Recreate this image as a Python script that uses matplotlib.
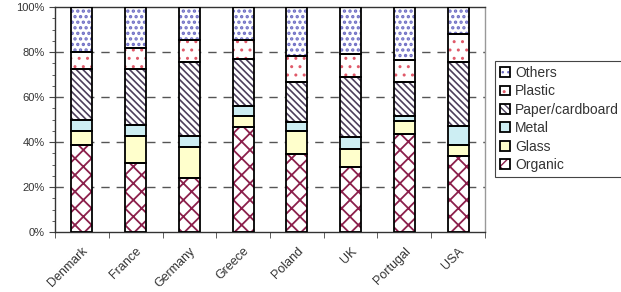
import matplotlib
matplotlib.use("Agg")
import matplotlib.pyplot as plt
import matplotlib.transforms as mtransforms
import numpy as np

plt.rcParams['font.family'] = ['Liberation Sans', 'DejaVu Sans']

countries = ['Denmark', 'France', 'Germany', 'Greece', 'Poland', 'UK', 'Portugal', 'USA']

# share of municipal waste (%), bottom to top
organic = [38.8, 30.6, 24.1, 46.7, 34.6, 28.8, 43.6, 34.0]
glass   = [6.1, 12.1, 13.7, 4.9, 10.3, 8.1, 5.9, 4.7]
metal   = [4.7, 4.9, 4.9, 4.2, 4.1, 5.5, 1.9, 8.4]
paper   = [22.8, 24.8, 32.9, 20.9, 17.8, 26.4, 15.2, 28.5]
plastic = [7.4, 9.3, 9.8, 8.7, 11.2, 10.2, 9.9, 12.3]
others  = [20.2, 18.3, 14.6, 14.6, 22.0, 21.0, 23.5, 12.1]

series = ['Organic', 'Glass', 'Metal', 'Paper/cardboard', 'Plastic', 'Others']
values = [organic, glass, metal, paper, plastic, others]
# (face colour, hatch, hatch colour, hatch width)
styles = [
    ('white', 'xx', '#8b1f4b', 1.3),
    ('#ffffcc', '', '#ffffcc', 1.0),
    ('#cdeef3', '', '#cdeef3', 1.0),
    ('white', '\\\\\\\\\\', '#4d3f5c', 1.2),
    ('white', '..', '#e05a6a', 1.0),
    ('white', '...', '#6f6ec4', 1.6),
]

fig = plt.figure(figsize=(6.21, 2.92), dpi=100)
ax = fig.add_axes([55 / 621, 1 - 232 / 292, 430 / 621, 225 / 292])

x = np.arange(len(countries))
bottom = np.zeros(len(countries))
handles = []
for name, vals, (fc, hatch, hc, hw) in zip(series, values, styles):
    vals = np.array(vals)
    with plt.rc_context({'hatch.linewidth': hw}):
        b1 = ax.bar(x, vals, 0.39, bottom=bottom, color=fc, hatch=hatch,
                    edgecolor=hc, linewidth=0, zorder=2)
    b2 = ax.bar(x, vals, 0.39, bottom=bottom, facecolor='none',
                edgecolor='black', linewidth=1.3, zorder=3)
    handles.append((b1[0], b2[0]))
    bottom += vals

ax.set_xlim(-0.5, len(countries) - 0.5)
ax.set_ylim(0, 100)

ax.set_yticks(np.arange(0, 101, 20))
ax.set_yticklabels([f'{v}%' for v in range(0, 101, 20)], fontsize=8, color='#333333')
ax.set_yticks(np.arange(0, 101, 5), minor=True)

ax.set_xticks(x)
ax.set_xticklabels(countries, rotation=45, ha='right', va='top',
                   rotation_mode='anchor', fontsize=9, color='#333333')
shift = mtransforms.ScaledTranslation(-0.10, 0, fig.dpi_scale_trans)
for lab in ax.get_xticklabels():
    lab.set_transform(lab.get_transform() + shift)
ax.set_xticks(np.arange(-0.5, len(countries)), minor=True)
ax.tick_params(axis='x', which='major', length=0, pad=9.5)
ax.tick_params(axis='x', which='minor', length=4, color='#444444')
ax.tick_params(axis='y', which='major', length=4, color='#444444')
ax.tick_params(axis='y', which='minor', length=2.5, color='#444444')

for y in [20, 40, 60, 80]:
    ax.axhline(y, color='#555555', lw=1, ls=(0, (6, 5)), zorder=1)

for s in ['left', 'bottom', 'top']:
    ax.spines[s].set_color('#333333')
    ax.spines[s].set_linewidth(1)
ax.spines['right'].set_color('#999999')
ax.spines['right'].set_linewidth(1)

leg = fig.legend(handles[::-1], series[::-1], loc='upper left',
                 bbox_to_anchor=(495 / 621, 1 - 61 / 292), borderaxespad=0,
                 fontsize=10, frameon=True, fancybox=False, framealpha=1,
                 edgecolor='#444444', handlelength=0.7, handleheight=0.7,
                 handletextpad=0.4, labelspacing=0.32, borderpad=0.35)
leg.get_frame().set_linewidth(0.8)
for t in leg.get_texts():
    t.set_color('#333333')

fig.savefig('out.png', dpi=100)
